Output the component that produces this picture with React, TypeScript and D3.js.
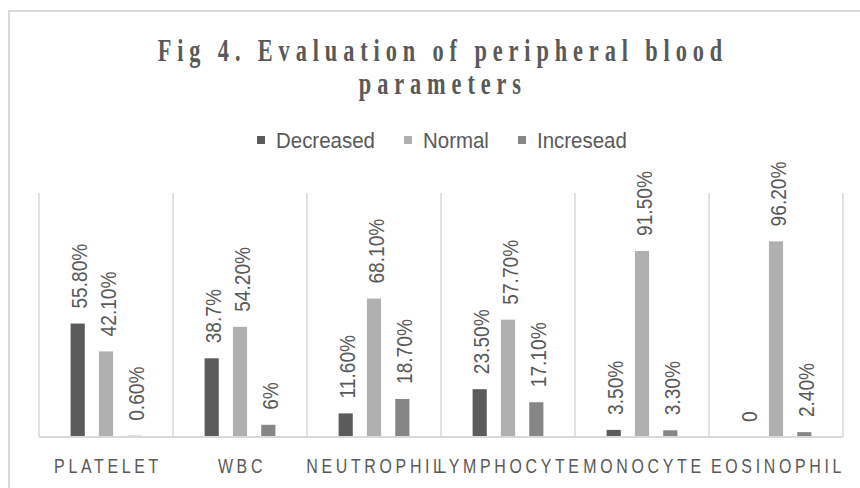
import React, { useRef, useEffect } from "react";
import * as d3 from "d3";

// chart data
const categories = ["PLATELET", "WBC", "NEUTROPHIL", "LYMPHOCYTE", "MONOCYTE", "EOSINOPHIL"];
const seriesNames = ["Decreased", "Normal", "Incresead"];
const decreased = [55.8, 38.7, 11.6, 23.5, 3.5, 0];
const normal = [42.1, 54.2, 68.1, 57.7, 91.5, 96.2];
const increased = [0.6, 6, 18.7, 17.1, 3.3, 2.4];
const decreasedLabels = ["55.80%", "38.7%", "11.60%", "23.50%", "3.50%", "0"];
const normalLabels = ["42.10%", "54.20%", "68.10%", "57.70%", "91.50%", "96.20%"];
const increasedLabels = ["0.60%", "6%", "18.70%", "17.10%", "3.30%", "2.40%"];
const colors = ["#5b5b5b", "#b0b0b0", "#868686"];

const W = 860;
const H = 488;
const TEXT = "#595959";
const GRID = "#d9d9d9";

const App = () => {
    const ref = useRef<SVGSVGElement>(null);

    useEffect(() => {
        const svg = d3.select(ref.current);
        svg.selectAll("*").remove();

        const margin = { left: 39, right: 17, top: 193, bottom: 51 };
        const x0 = d3.scaleBand().domain(categories).range([margin.left, W - margin.right]).padding(0);
        const x1 = d3.scaleBand().domain(seriesNames).range([-35.4, 35.4]).paddingInner(0.5).paddingOuter(0);
        const y = d3.scaleLinear().domain([0, 120]).range([H - margin.bottom, margin.top]);

        // outer chart border
        svg.append("rect")
            .attr("x", 9).attr("y", 11)
            .attr("width", W).attr("height", H)
            .attr("fill", "none")
            .attr("stroke", GRID)
            .attr("stroke-width", 2);

        // title (narrow, widely spaced serif)
        const title = svg.append("g").attr("transform", "translate(440,0) scale(0.72,1)");
        title.selectAll("text")
            .data(["Fig 4. Evaluation of peripheral blood", "parameters"])
            .join("text")
            .attr("x", 4)
            .attr("y", (d, i) => 61 + i * 33)
            .attr("text-anchor", "middle")
            .attr("font-family", "Liberation Serif, serif")
            .attr("font-weight", "bold")
            .attr("font-size", 31)
            .attr("letter-spacing", 8.2)
            .attr("fill", TEXT)
            .text(d => d);

        // legend
        const legendX = [257, 404, 518];
        const legend = svg.append("g");
        seriesNames.forEach((name, i) => {
            legend.append("rect")
                .attr("x", legendX[i]).attr("y", 136)
                .attr("width", 8).attr("height", 8)
                .attr("fill", colors[i]);
            legend.append("text")
                .attr("transform", `translate(${legendX[i] + 19},148) scale(0.93,1)`)
                .attr("font-family", "Liberation Sans, Arial, sans-serif")
                .attr("font-size", 22)
                .attr("fill", TEXT)
                .text(name);
        });

        // vertical category dividers
        const edges = categories.map(c => x0(c)!).concat([W - margin.right]);
        svg.append("g").selectAll("line")
            .data(edges)
            .join("line")
            .attr("x1", d => d).attr("x2", d => d)
            .attr("y1", y(120)).attr("y2", y(0))
            .attr("stroke", GRID)
            .attr("stroke-width", 1.5);

        // bars
        const series = [decreased, normal, increased];
        const labels = [decreasedLabels, normalLabels, increasedLabels];
        const rows = categories.flatMap((c, ci) =>
            seriesNames.map((s, si) => ({ c, s, si, v: series[si][ci], label: labels[si][ci] })));

        svg.append("g").selectAll("rect")
            .data(rows)
            .join("rect")
            .attr("x", d => x0(d.c)! + x0.bandwidth() / 2 + x1(d.s)!)
            .attr("y", d => y(d.v))
            .attr("width", x1.bandwidth())
            .attr("height", d => y(0) - y(d.v))
            .attr("fill", d => colors[d.si]);

        // baseline
        svg.append("line")
            .attr("x1", margin.left).attr("x2", W - margin.right)
            .attr("y1", y(0)).attr("y2", y(0))
            .attr("stroke", GRID)
            .attr("stroke-width", 2);

        // data labels (rotated)
        svg.append("g").selectAll("text")
            .data(rows)
            .join("text")
            .attr("transform", d => {
                const cx = x0(d.c)! + x0.bandwidth() / 2 + x1(d.s)! + x1.bandwidth() / 2 + 2;
                return `translate(${cx},${y(d.v) - 15}) rotate(-90) scale(0.87,1)`;
            })
            .attr("dy", "0.35em")
            .attr("font-family", "Liberation Sans, Arial, sans-serif")
            .attr("font-size", 22)
            .attr("fill", TEXT)
            .text(d => d.label);

        // category labels
        svg.append("g").selectAll("text")
            .data(categories)
            .join("text")
            .attr("transform", d => `translate(${x0(d)! + x0.bandwidth() / 2 + 2},473) scale(0.76,1)`)
            .attr("text-anchor", "middle")
            .attr("font-family", "Liberation Sans, Arial, sans-serif")
            .attr("font-size", 21)
            .attr("letter-spacing", 4.8)
            .attr("fill", TEXT)
            .text(d => d);
    }, []);

    return (
        <svg
            ref={ref}
            width={W}
            height={H}
            style={{ position: "absolute", left: 0, top: 0, background: "#fff" }}
        />
    );
};

export default App;
